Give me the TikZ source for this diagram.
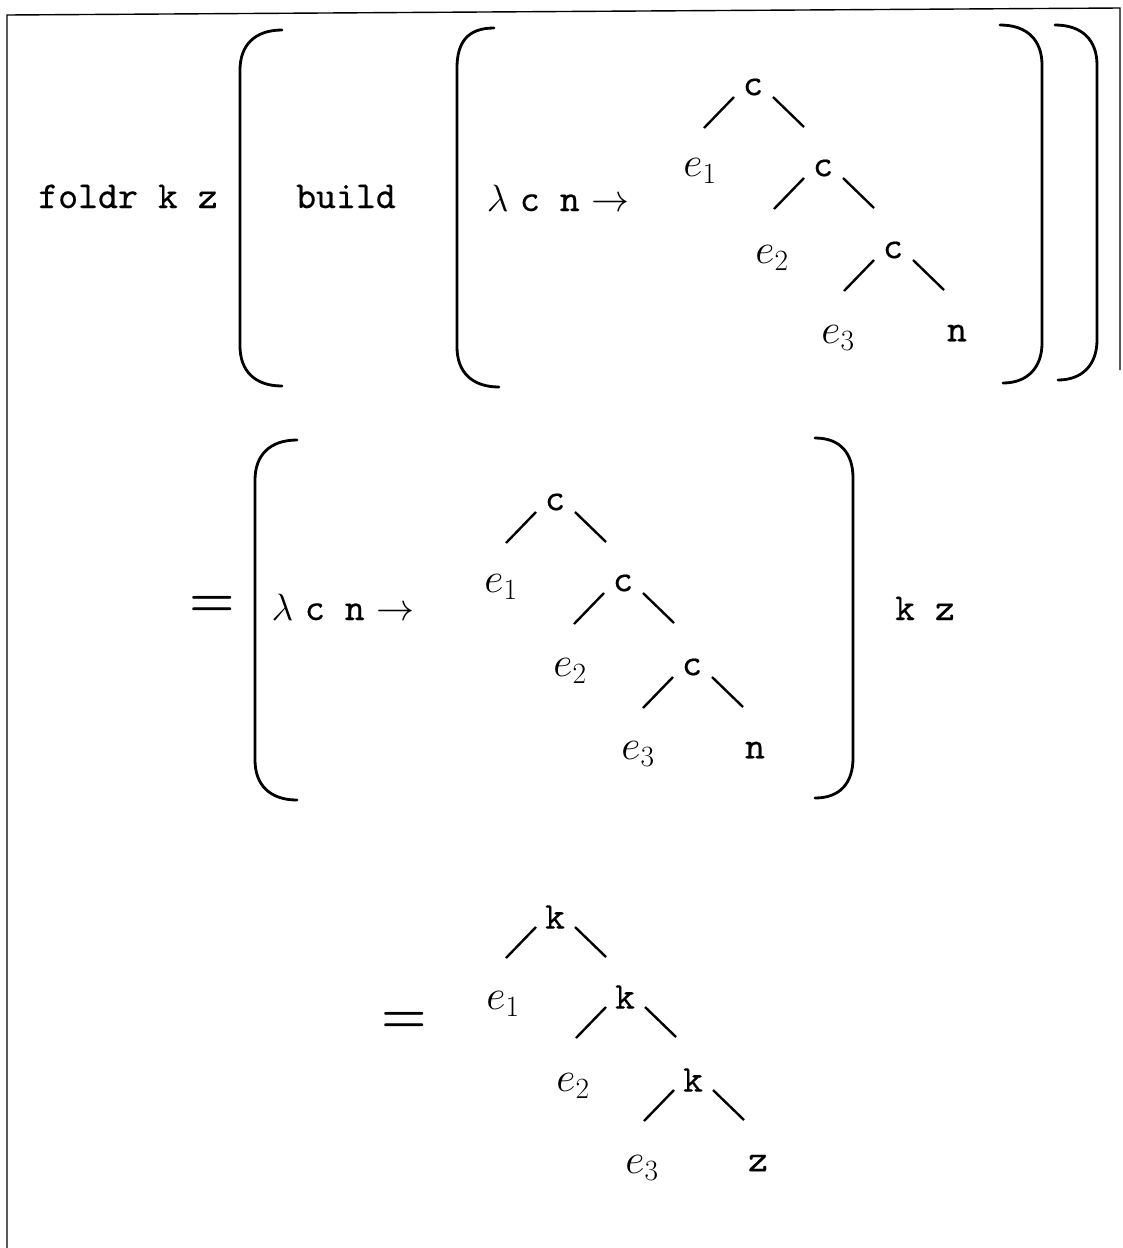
\RequirePackage{fix-cm}
\documentclass[tikz,border=0pt]{standalone}
\usepackage{fontspec}
\newfontfamily\ttheavy{lmmono10-regular.otf}[FakeBold=0.4]
\usetikzlibrary{calc}
\newcommand\treebranches[1]{%
  \draw[branch] ($(#1)+(-19,10)$) -- ++(-30,31);
  \draw[branch] ($(#1)+(20,10)$) -- ++(31,30);}
\begin{document}
\begin{tikzpicture}[x=1pt,y=-1pt,
  every node/.style={inner sep=0pt, font=\fontsize{38}{44}\selectfont},
  tt/.style={font=\fontsize{38}{44}\selectfont\ttheavy},
  mathlbl/.style={font=\fontsize{42}{48}\selectfont},
  eqsign/.style={font=\fontsize{52}{60}\selectfont\boldmath},
  branch/.style={line width=2.4pt},
  paren/.style={line width=2.8pt, line cap=round},
  frameline/.style={line width=1.4pt}]
\useasboundingbox (0,0) rectangle (1123,1248);
% frame
\draw[frameline] (7,1248) -- (7,15) -- (1120,8) -- (1120,370);

% ---------- Row 1 ----------
\node[tt, anchor=base] (foldr) at (128,208) {foldr k z};
\draw[paren] (282,30) .. controls (255,30) and (240,45) .. (240,70) -- (240,346) .. controls (240,371) and (255,386) .. (282,386);
\node[tt, anchor=base] (build) at (346,208) {build};
\draw[paren] (494,28) .. controls (467,28) and (457,43) .. (457,68) -- (457,347) .. controls (457,372) and (472,387) .. (499,387);
\node[anchor=base] (lamA) at (558,211) {$\lambda$ {\ttheavy c n} $\rightarrow$};
\node[tt] (a1) at (753,87) {c};
\node[mathlbl] (ae1) at (700,171) {$e_1$};
\node[tt] (a2) at (823,168) {c};
\node[mathlbl] (ae2) at (772,258) {$e_2$};
\node[tt] (a3) at (893,250) {c};
\node[mathlbl] (ae3) at (838,338) {$e_3$};
\node[tt] (an) at (957,333) {n};
\treebranches{a1}
\treebranches{a2}
\treebranches{a3}
\draw[paren] (1000,25) .. controls (1027,25) and (1042,40) .. (1042,65) -- (1042,343) .. controls (1042,368) and (1027,383) .. (1003,383);
\draw[paren] (1055,25) .. controls (1082,25) and (1097,40) .. (1097,65) -- (1097,340) .. controls (1097,365) and (1082,380) .. (1058,380);

% ---------- Row 2 ----------
\node[eqsign] (eqB) at (212,606) {$=$};
\draw[paren] (297,440) .. controls (270,440) and (255,455) .. (255,480) -- (255,760) .. controls (255,785) and (270,800) .. (297,800);
\node[anchor=base] (lamB) at (343,620) {$\lambda$ {\ttheavy c n} $\rightarrow$};
\node[tt] (b1) at (555,502) {c};
\node[mathlbl] (be1) at (501,587) {$e_1$};
\node[tt] (b2) at (623,583) {c};
\node[mathlbl] (be2) at (570,671) {$e_2$};
\node[tt] (b3) at (692,667) {c};
\node[mathlbl] (be3) at (638,754) {$e_3$};
\node[tt] (bn) at (755,750) {n};
\treebranches{b1}
\treebranches{b2}
\treebranches{b3}
\draw[paren] (815,438) .. controls (840,438) and (853,453) .. (853,478) -- (853,758) .. controls (853,783) and (840,798) .. (815,798);
\node[tt, anchor=base] (kz) at (925,620) {k z};

% ---------- Row 3 ----------
\node[eqsign] (eqC) at (404,1022) {$=$};
\node[tt] (c1) at (555,917) {k};
\node[mathlbl] (ce1) at (503,1004) {$e_1$};
\node[tt] (c2) at (625,997) {k};
\node[mathlbl] (ce2) at (573,1086) {$e_2$};
\node[tt] (c3) at (693,1080) {k};
\node[mathlbl] (ce3) at (642,1168) {$e_3$};
\node[tt] (cz) at (758,1163) {z};
\treebranches{c1}
\treebranches{c2}
\treebranches{c3}
\end{tikzpicture}
\end{document}
